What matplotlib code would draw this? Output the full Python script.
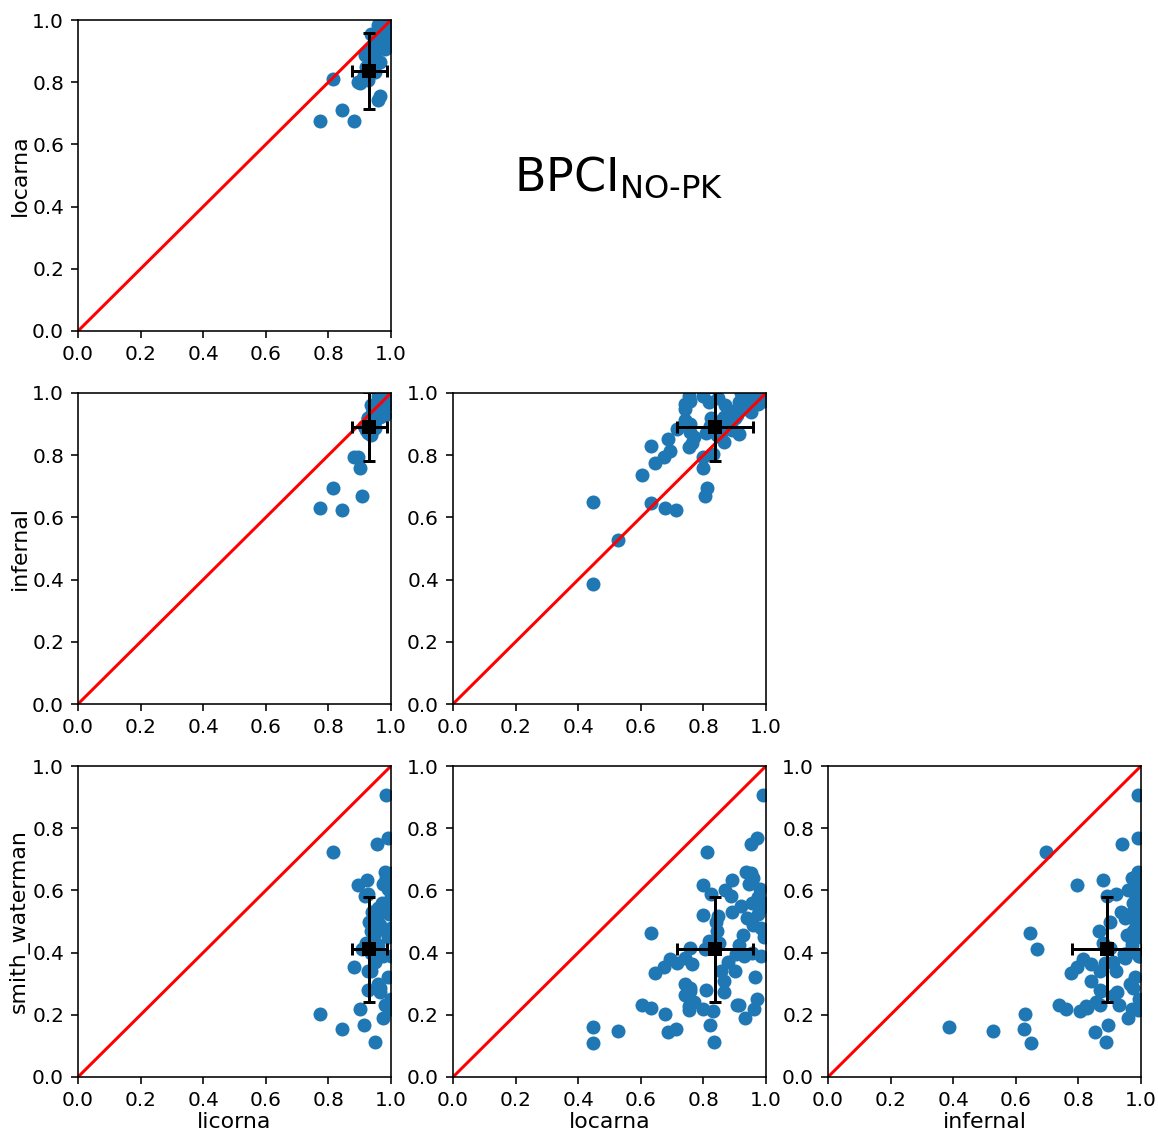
import numpy as np
import matplotlib
matplotlib.use("Agg")
import matplotlib.pyplot as plt

nan = np.nan

# per-sample scores; licorna missing for some samples
licorna = [0.773, 0.845, 0.815, 0.882, 0.907, 0.894, 0.901, 0.984, 0.990, 0.956,
           0.950, 0.914, 0.973, 0.981, 0.928, 0.965, 0.990, 0.928, 0.936, 0.924,
           0.917, 0.926, 0.980, 0.985, 0.975, 0.990, 0.970, 0.960, 0.995, 0.955,
           0.965, 0.985, 0.945, 0.940, 0.930, 0.945, 0.935, 0.960, 0.920, 0.950,
           0.975, 0.990, 0.935, 0.995,
           nan, nan, nan, nan, nan, nan, nan, nan, nan, nan,
           nan, nan, nan, nan, nan, nan, nan, nan, nan, nan,
           nan, 1.000,
           nan, nan, nan, 1.000, nan, 1.000, 1.000, 1.000, 1.000, 1.000,
           0.965, 0.960]
locarna = [0.676, 0.712, 0.810, 0.674, 0.806, 0.800, 0.798, 0.990, 0.970, 0.953,
           0.834, 0.822, 0.932, 0.907, 0.808, 0.865, 0.966, 0.900, 0.857, 0.890,
           0.888, 0.825, 0.935, 0.960, 0.945, 0.980, 0.955, 0.985, 0.975, 0.940,
           0.960, 0.995, 0.925, 0.890, 0.840, 0.905, 0.955, 0.915, 0.849, 0.880,
           0.985, 0.995, 0.845, 0.990,
           0.446, 0.526, 0.446, 0.633, 0.604, 0.644, 0.633, 0.694, 0.688, 0.715,
           0.742, 0.742, 0.758, 0.753, 0.769, 0.755, 0.763, 0.758, 0.830, 0.865,
           0.913, 0.962,
           0.800, 0.817, 0.870, 0.920, 0.846, 0.953, 0.985, 0.970, 0.930, 0.975,
           0.756, 0.742]
infernal = [0.630, 0.625, 0.695, 0.795, 0.668, 0.795, 0.760, 0.990, 0.990, 0.940,
            0.887, 0.895, 0.960, 0.930, 0.870, 0.923, 0.980, 0.920, 0.870, 0.880,
            0.890, 0.920, 0.990, 0.970, 0.985, 1.000, 0.975, 0.990, 0.965, 0.950,
            0.985, 0.975, 0.955, 0.935, 0.900, 0.945, 0.960, 0.970, 0.880, 0.910,
            0.995, 1.000, 0.865, 0.995,
            0.387, 0.528, 0.650, 0.645, 0.737, 0.776, 0.829, 0.815, 0.853, 0.884,
            0.948, 0.914, 0.873, 0.825, 0.857, 0.990, 0.840, 0.900, 0.804, 0.841,
            0.868, 0.970,
            0.990, 0.970, 0.960, 1.000, 0.985, 0.990, 1.000, 0.995, 0.995, 0.985,
            0.975, 0.965]
smith_waterman = [0.203, 0.153, 0.725, 0.353, 0.411, 0.616, 0.219, 0.906, 0.768, 0.748,
                  0.111, 0.168, 0.191, 0.232, 0.280, 0.272, 0.322, 0.342, 0.340, 0.635,
                  0.582, 0.590, 0.660, 0.640, 0.620, 0.605, 0.560, 0.545, 0.525, 0.510,
                  0.490, 0.470, 0.455, 0.530, 0.500, 0.395, 0.400, 0.425, 0.432, 0.370,
                  0.390, 0.450, 0.470, 0.560,
                  0.160, 0.149, 0.109, 0.462, 0.232, 0.335, 0.222, 0.381, 0.146, 0.367,
                  0.383, 0.265, 0.275, 0.229, 0.240, 0.215, 0.362, 0.415, 0.213, 0.309,
                  0.231, 0.218,
                  0.520, 0.437, 0.600, 0.550, 0.517, 0.655, 0.480, 0.250, 0.390, 0.580,
                  0.285, 0.300]

methods = ["licorna", "locarna", "infernal", "smith_waterman"]
scores = {"licorna": licorna, "locarna": locarna, "infernal": infernal,
          "smith_waterman": smith_waterman}
# mean and standard deviation per method, as drawn by the black cross
means = {"licorna": 0.931, "locarna": 0.837, "infernal": 0.892, "smith_waterman": 0.410}
stds = {"licorna": 0.056, "locarna": 0.122, "infernal": 0.112, "smith_waterman": 0.168}

W, H = 1158, 1133
fig = plt.figure(figsize=(W / 144, H / 144), dpi=144)

lefts = [78, 453, 828]
tops = [20, 393, 766]
aw, ah = 313, 311

for r in range(3):
    for c in range(r + 1):
        xm, ym = methods[c], methods[r + 1]
        ax = fig.add_axes([lefts[c] / W, 1 - (tops[r] + ah) / H, aw / W, ah / H])
        ax.scatter(scores[xm], scores[ym], s=36, color="#1f77b4")
        ax.plot([0, 1], [0, 1], color="red", linewidth=1.5)
        ax.errorbar(means[xm], means[ym], xerr=stds[xm], yerr=stds[ym],
                    fmt="s", color="k", markersize=6, elinewidth=1.5,
                    capsize=3, capthick=1.5, zorder=4)
        ax.set_xlim(0, 1)
        ax.set_ylim(0, 1)
        ax.set_xticks(np.arange(0, 1.01, 0.2))
        ax.set_yticks(np.arange(0, 1.01, 0.2))
        if c == 0:
            ax.set_ylabel(ym, fontsize=11, labelpad=1)
        if r == 2:
            ax.set_xlabel(xm, fontsize=11, labelpad=1)

fig.text(619 / W, 1 - 178 / H, r"BPCI$_{\mathrm{NO}\text{-}\mathrm{PK}}$",
         fontsize=23, ha="center", va="center")

fig.savefig("out.png", dpi=144)
